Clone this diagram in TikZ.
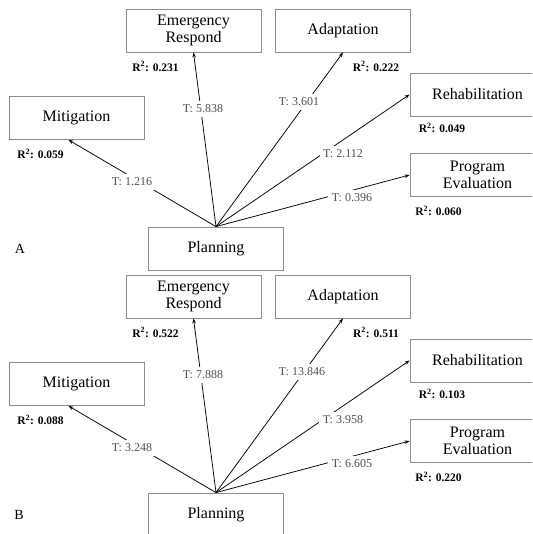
\documentclass[tikz,border=0pt]{standalone}
\usepackage{fontspec}
\setmainfont{Liberation Serif}
\usetikzlibrary{arrows.meta}
\definecolor{boxgray}{RGB}{140,140,140}
\definecolor{tgray}{RGB}{80,80,80}
\begin{document}
\begin{tikzpicture}[x=1pt,y=-1pt,
  box/.style={draw=boxgray, line width=0.8pt, minimum width=135pt, minimum height=43pt, inner sep=0pt, align=center, font=\fontsize{16}{17}\selectfont},
  conn/.style={draw=black, line width=0.75pt, -{Stealth[length=5pt,width=3.6pt]}},
  tlab/.style={fill=white, inner xsep=3.5pt, inner ysep=4pt, text=tgray, font=\fontsize{12}{13}\selectfont},
  rlab/.style={inner sep=0pt, font=\bfseries\fontsize{11.5}{13}\selectfont},
  plab/.style={inner sep=0pt, font=\fontsize{14}{16}\selectfont}]
\useasboundingbox (0,0) rectangle (532,534);
\clip (0,0) rectangle (532,534);

% ---------------- Panel A ----------------
\node[box] (erA) at (193.5,30.5) {Emergency\\Respond};
\node[box] (adA) at (343,30.5) {Adaptation};
\node[box] (miA) at (76.5,118) {Mitigation};
\node[box] (reA) at (477.5,94.5) {Rehabilitation};
\node[box] (peA) at (477.5,175) {Program\\Evaluation};
\node[box] (plA) at (216,248.5) {Planning};
\node[plab] (labA) at (20,248.5) {A};

\draw[conn] (plA.north) -- ([xshift=-8pt]miA.south);
\draw[conn] (plA.north) -- (erA.south);
\draw[conn] (plA.north) -- (adA.south);
\draw[conn] (plA.north) -- (reA.west);
\draw[conn] (plA.north) -- (peA.west);

\node[tlab] (tmiA) at (132,182) {T: 1.216};
\node[tlab] (terA) at (203,109) {T: 5.838};
\node[tlab] (tadA) at (299,102) {T: 3.601};
\node[tlab] (treA) at (343,154) {T: 2.112};
\node[tlab] (tpeA) at (352,198) {T: 0.396};

\node[rlab] (rerA) at (155.5,66.5) {R\textsuperscript{2}: 0.231};
\node[rlab] (radA) at (376,66.5) {R\textsuperscript{2}: 0.222};
\node[rlab] (rmiA) at (40.5,154) {R\textsuperscript{2}: 0.059};
\node[rlab] (rreA) at (442,128) {R\textsuperscript{2}: 0.049};
\node[rlab] (rpeA) at (438.5,211) {R\textsuperscript{2}: 0.060};

% ---------------- Panel B ----------------
\node[box] (erB) at (193.5,296.5) {Emergency\\Respond};
\node[box] (adB) at (343,296.5) {Adaptation};
\node[box] (miB) at (76.5,384) {Mitigation};
\node[box] (reB) at (477.5,360.5) {Rehabilitation};
\node[box] (peB) at (477.5,441) {Program\\Evaluation};
\node[box] (plB) at (216,514.5) {Planning};
\node[plab] (labB) at (19,514.5) {B};

\draw[conn] (plB.north) -- ([xshift=-8pt]miB.south);
\draw[conn] (plB.north) -- (erB.south);
\draw[conn] (plB.north) -- (adB.south);
\draw[conn] (plB.north) -- (reB.west);
\draw[conn] (plB.north) -- (peB.west);

\node[tlab] (tmiB) at (132,448) {T: 3.248};
\node[tlab] (terB) at (203,375) {T: 7.888};
\node[tlab] (tadB) at (302,372) {T: 13.846};
\node[tlab] (treB) at (343,420) {T: 3.958};
\node[tlab] (tpeB) at (352,464) {T: 6.605};

\node[rlab] (rerB) at (155.5,332.5) {R\textsuperscript{2}: 0.522};
\node[rlab] (radB) at (376,332.5) {R\textsuperscript{2}: 0.511};
\node[rlab] (rmiB) at (40.5,420) {R\textsuperscript{2}: 0.088};
\node[rlab] (rreB) at (442,394) {R\textsuperscript{2}: 0.103};
\node[rlab] (rpeB) at (438.5,477) {R\textsuperscript{2}: 0.220};
\end{tikzpicture}
\end{document}
